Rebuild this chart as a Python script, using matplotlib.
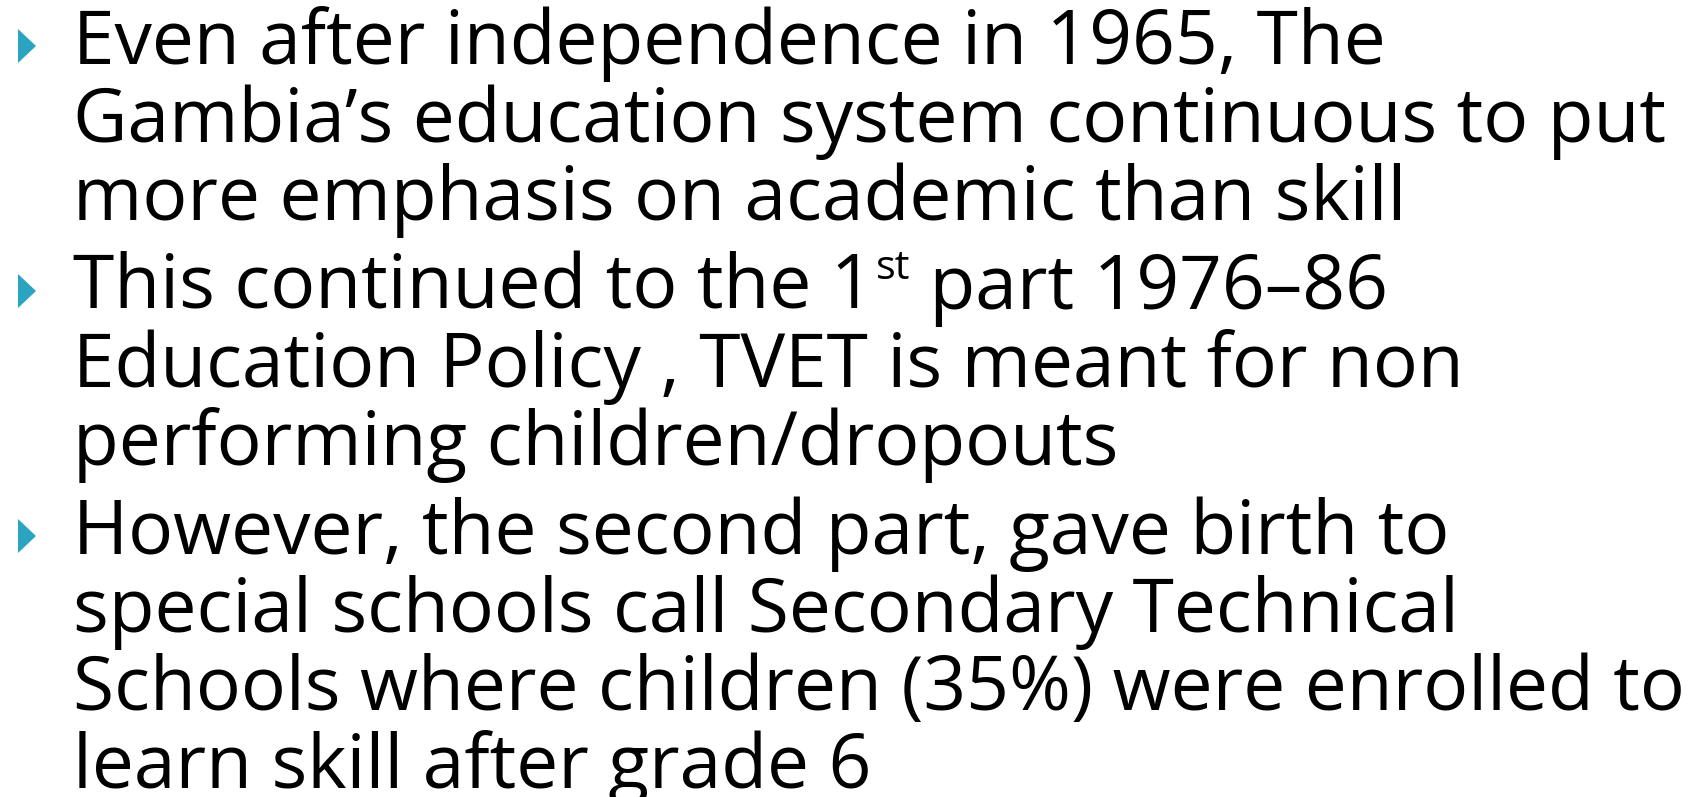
import matplotlib
matplotlib.use("Agg")
import matplotlib.pyplot as plt
from matplotlib.patches import Polygon

W, H = 1688, 797
DPI = 100

# Slide content: paragraphs, each a list of lines. The "^st" marker denotes a superscript.
paragraph_1 = [
    "Even after independence in 1965, The",
    "Gambia\u2019s education system continuous to put",
    "more emphasis on academic than skill",
]
paragraph_2 = [
    "This continued to the 1^st part 1976\u201386",
    "Education Policy , TVET is meant for non",
    "performing children/dropouts",
]
paragraph_3 = [
    "However, the second part, gave birth to",
    "special schools call Secondary Technical",
    "Schools where children (35%) were enrolled to",
    "learn skill after grade 6",
]
paragraphs = [paragraph_1, paragraph_2, paragraph_3]

# Layout (pixels)
text_left = 73
bullet_left = 18
first_baseline = 64
line_step = 78
para_extra = 11
# reference right edges of a few lines, used to size the font
fit_lines = [paragraph_1[0], paragraph_1[1], paragraph_1[2],
             paragraph_2[1], paragraph_3[2]]
fit_right = [1388, 1668, 1400, 1473, 1665]
text_color = "black"
bullet_color = "#2AA4C0"
family = ["Open Sans", "DejaVu Sans"]

fig = plt.figure(figsize=(W / DPI, H / DPI), dpi=DPI)
fig.patch.set_facecolor("white")
renderer = fig.canvas.get_renderer()

def fx(px):
    return px / W

def fy(py):
    return 1 - py / H

ratios = []
for s, r in zip(fit_lines, fit_right):
    probe = fig.text(0, 0, s, fontsize=50, family=family)
    w = probe.get_window_extent(renderer).width
    probe.remove()
    ratios.append((r - text_left) / w)
fs = 50 * sorted(ratios)[len(ratios) // 2]

def draw_line(x, baseline, s):
    if "^" in s:
        pre, rest = s.split("^", 1)
        sup, post = rest[:2], rest[2:]
        t1 = fig.text(fx(x), fy(baseline), pre, fontsize=fs, family=family,
                      color=text_color, va="baseline", ha="left")
        x2 = x + t1.get_window_extent(renderer).width + 2
        t2 = fig.text(fx(x2), fy(baseline - fs * 0.55), sup, fontsize=fs * 0.55,
                      family=family, color=text_color, va="baseline", ha="left")
        x3 = x2 + t2.get_window_extent(renderer).width
        fig.text(fx(x3), fy(baseline), post, fontsize=fs, family=family,
                 color=text_color, va="baseline", ha="left")
    else:
        fig.text(fx(x), fy(baseline), s, fontsize=fs, family=family,
                 color=text_color, va="baseline", ha="left")

baseline = first_baseline
for i, para in enumerate(paragraphs):
    if i > 0:
        baseline += para_extra
    tri = Polygon([(fx(bullet_left), fy(baseline - 35)),
                   (fx(bullet_left), fy(baseline - 1)),
                   (fx(bullet_left + 18), fy(baseline - 18))],
                  closed=True, facecolor=bullet_color, edgecolor="none",
                  transform=fig.transFigure)
    fig.patches.append(tri)
    for line in para:
        draw_line(text_left, baseline, line)
        baseline += line_step

fig.savefig("out.png", dpi=DPI, facecolor="white")
